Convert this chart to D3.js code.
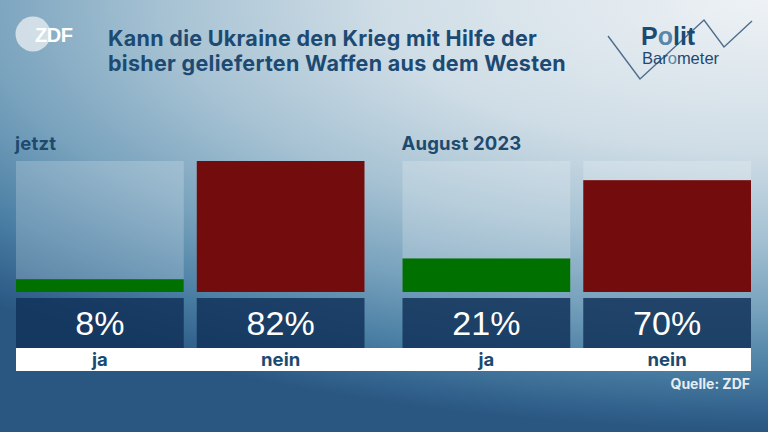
<!DOCTYPE html>
<html><head><meta charset="utf-8">
<script src="https://cdn.jsdelivr.net/npm/d3@7/dist/d3.min.js"></script>
<style>html,body{margin:0;padding:0;overflow:hidden;background:#2c5b86}</style>
</head><body>
<svg id="c" width="768" height="432"></svg>
<script>
// ---- data ----
const groups = ["jetzt", "August 2023"];
const answers = ["ja", "nein"];
const jaValues = [8, 21];
const neinValues = [82, 70];
const titleLines = ["Kann die Ukraine den Krieg mit Hilfe der", "bisher gelieferten Waffen aus dem Westen"];
const source = "Quelle: ZDF";

const colors = {ja: "#007000", nein: "#730c0c"};
const W = 768, H = 432;
const svg = d3.select("#c");
const defs = svg.append("defs");

// background
const rg = defs.append("radialGradient").attr("id", "bg")
  .attr("gradientUnits", "userSpaceOnUse")
  .attr("cx", 768).attr("cy", 0).attr("r", 1100).attr("fx", 768).attr("fy", 0)
  .attr("gradientTransform", "translate(768,0) scale(1,0.39) translate(-768,0)");
[[0, "#eef2f5"], [0.35, "#cfdde6"], [0.55, "#a6c2d3"], [0.72, "#78a2bd"], [0.85, "#4e82a6"], [0.97, "#2f5f8a"], [1, "#2a5782"]]
  .forEach(([o, c]) => rg.append("stop").attr("offset", o).attr("stop-color", c));
svg.append("rect").attr("width", W).attr("height", H).attr("fill", "url(#bg)");

// ZDF logo
svg.append("circle").attr("cx", 33).attr("cy", 34).attr("r", 17.5).attr("fill", "#dfe7ed").attr("opacity", 0.85);
svg.append("text").attr("x", 35).attr("y", 42).text("ZDF")
  .attr("font-family", "Liberation Sans, Arial, sans-serif").attr("font-weight", "bold")
  .attr("font-size", 20).attr("fill", "#ffffff").attr("letter-spacing", -0.5);

// title
const FONT = "Inter, Lato, 'Noto Sans', sans-serif";
svg.append("g").selectAll("text").data(titleLines).join("text")
  .attr("x", 108).attr("y", (d, i) => 46 + i * 25)
  .attr("font-family", FONT).attr("font-weight", 700).attr("font-size", 21.5)
  .attr("letter-spacing", 0.3)
  .attr("fill", "#1d4a72").text(d => d);

// Politbarometer logo
const zz = [[608, 36], [640, 79], [704, 20], [724, 47], [752, 21]];
svg.append("path").attr("d", d3.line()(zz)).attr("fill", "none")
  .attr("stroke", "#4d6d8c").attr("stroke-width", 1.4);
const pt = svg.append("text").attr("x", 641).attr("y", 45)
  .attr("font-family", "Liberation Sans, Arial, sans-serif").attr("font-weight", "bold")
  .attr("font-size", 25).attr("fill", "#1d4a72");
pt.append("tspan").text("P"); pt.append("tspan").attr("fill", "#5a86aa").text("o"); pt.append("tspan").text("lit");
const bt = svg.append("text").attr("x", 642).attr("y", 64)
  .attr("font-family", "Liberation Sans, Arial, sans-serif")
  .attr("font-size", 16.5).attr("fill", "#1d4a72");
bt.append("tspan").text("Bar"); bt.append("tspan").attr("fill", "#5a86aa").text("o"); bt.append("tspan").text("meter");

// scales
const allVals = jaValues.concat(neinValues);
const xGroup = d3.scaleBand().domain(groups).range([16, 751]).paddingInner(0.0983);
const xAns = d3.scaleBand().domain(answers).range([0, xGroup.bandwidth()]).paddingInner(0.072);
const y = d3.scaleLinear().domain([0, d3.max(allVals)]).range([292, 161]);

const rows = [];
groups.forEach((g, gi) => {
  rows.push({group: g, answer: "ja", value: jaValues[gi]});
  rows.push({group: g, answer: "nein", value: neinValues[gi]});
});

// white label strip
svg.append("rect").attr("x", xGroup.range()[0]).attr("y", 348)
  .attr("width", xGroup.range()[1] - xGroup.range()[0]).attr("height", 23).attr("fill", "#ffffff");

const gg = svg.append("g").selectAll("g").data(groups).join("g")
  .attr("transform", d => `translate(${xGroup(d)},0)`);

gg.append("text").attr("x", -1).attr("y", 150).text(d => d)
  .attr("font-family", FONT).attr("font-weight", 700).attr("font-size", 18.5)
  .attr("letter-spacing", 0.2).attr("fill", "#1d4a6e");

const cell = gg.selectAll("g.cell").data(g => rows.filter(r => r.group === g)).join("g").attr("class", "cell")
  .attr("transform", d => `translate(${xAns(d.answer)},0)`);

// track
cell.append("rect").attr("x", 0).attr("width", xAns.bandwidth())
  .attr("y", y.range()[1]).attr("height", y.range()[0] - y.range()[1])
  .attr("fill", "#ffffff").attr("opacity", 0.2);
// bar
cell.append("rect").attr("x", 0).attr("width", xAns.bandwidth())
  .attr("y", d => y(d.value)).attr("height", d => y(0) - y(d.value))
  .attr("fill", d => colors[d.answer]);
// value box
cell.append("rect").attr("x", 0).attr("width", xAns.bandwidth())
  .attr("y", 298).attr("height", 50).attr("fill", "#12325a").attr("opacity", 0.85);
cell.append("text").attr("x", xAns.bandwidth() / 2).attr("y", 335).attr("text-anchor", "middle")
  .attr("font-family", "Liberation Sans, Arial, sans-serif").attr("font-size", 34).attr("fill", "#ffffff")
  .text(d => d.value + "%");
// answer label
cell.append("text").attr("x", xAns.bandwidth() / 2).attr("y", 366).attr("text-anchor", "middle")
  .attr("font-family", FONT).attr("font-weight", 700).attr("font-size", 18.5)
  .attr("fill", "#1a4a72")
  .text(d => d.answer);

// source
svg.append("text").attr("x", 750).attr("y", 389).attr("text-anchor", "end")
  .attr("font-family", FONT).attr("font-weight", 700).attr("font-size", 14)
  .attr("fill", "#e6edf2")
  .text(source);
</script>
</body></html>
